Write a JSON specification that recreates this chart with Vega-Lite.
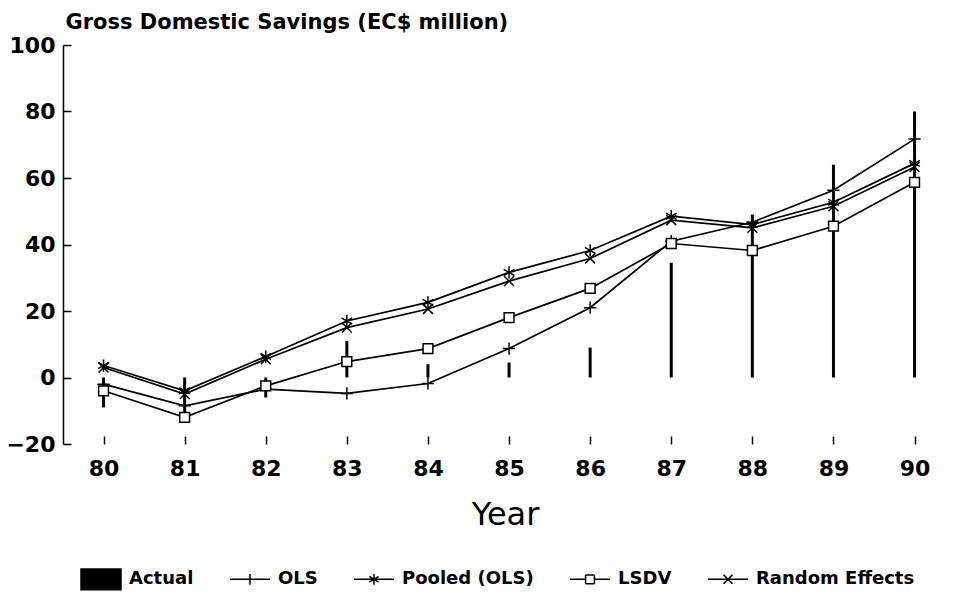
{
  "$schema": "https://vega.github.io/schema/vega-lite/v6.json",
  "autosize": "none",
  "width": 884,
  "height": 399,
  "padding": {"left": 63, "top": 45, "right": 7, "bottom": 152},
  "background": "white",
  "config": {
    "font": "DejaVu Sans",
    "view": {"stroke": null},
    "axis": {"labelColor": "black", "titleColor": "black", "tickColor": "black", "domainColor": "black", "grid": false}
  },
  "data": {
    "values": [
      {"year": 80, "series": "Actual", "value": -9},
      {"year": 81, "series": "Actual", "value": -11},
      {"year": 82, "series": "Actual", "value": -6},
      {"year": 83, "series": "Actual", "value": 11},
      {"year": 84, "series": "Actual", "value": 4},
      {"year": 85, "series": "Actual", "value": 4.5},
      {"year": 86, "series": "Actual", "value": 9},
      {"year": 87, "series": "Actual", "value": 34.5},
      {"year": 88, "series": "Actual", "value": 49},
      {"year": 89, "series": "Actual", "value": 64},
      {"year": 90, "series": "Actual", "value": 80},
      {"year": 80, "series": "OLS", "value": -2},
      {"year": 81, "series": "OLS", "value": -8.5},
      {"year": 82, "series": "OLS", "value": -3.5},
      {"year": 83, "series": "OLS", "value": -4.8},
      {"year": 84, "series": "OLS", "value": -1.8},
      {"year": 85, "series": "OLS", "value": 8.7},
      {"year": 86, "series": "OLS", "value": 21},
      {"year": 87, "series": "OLS", "value": 41},
      {"year": 88, "series": "OLS", "value": 46.7},
      {"year": 89, "series": "OLS", "value": 56.3},
      {"year": 90, "series": "OLS", "value": 71.7},
      {"year": 80, "series": "Pooled (OLS)", "value": 3.6},
      {"year": 81, "series": "Pooled (OLS)", "value": -4},
      {"year": 82, "series": "Pooled (OLS)", "value": 6.3},
      {"year": 83, "series": "Pooled (OLS)", "value": 17},
      {"year": 84, "series": "Pooled (OLS)", "value": 22.6},
      {"year": 85, "series": "Pooled (OLS)", "value": 31.6},
      {"year": 86, "series": "Pooled (OLS)", "value": 38.2},
      {"year": 87, "series": "Pooled (OLS)", "value": 48.5},
      {"year": 88, "series": "Pooled (OLS)", "value": 46},
      {"year": 89, "series": "Pooled (OLS)", "value": 52.7},
      {"year": 90, "series": "Pooled (OLS)", "value": 64.4},
      {"year": 80, "series": "LSDV", "value": -4},
      {"year": 81, "series": "LSDV", "value": -12},
      {"year": 82, "series": "LSDV", "value": -2.5},
      {"year": 83, "series": "LSDV", "value": 4.8},
      {"year": 84, "series": "LSDV", "value": 8.7},
      {"year": 85, "series": "LSDV", "value": 18},
      {"year": 86, "series": "LSDV", "value": 26.8},
      {"year": 87, "series": "LSDV", "value": 40.3},
      {"year": 88, "series": "LSDV", "value": 38.2},
      {"year": 89, "series": "LSDV", "value": 45.5},
      {"year": 90, "series": "LSDV", "value": 58.7},
      {"year": 80, "series": "Random Effects", "value": 3},
      {"year": 81, "series": "Random Effects", "value": -5},
      {"year": 82, "series": "Random Effects", "value": 5.5},
      {"year": 83, "series": "Random Effects", "value": 15},
      {"year": 84, "series": "Random Effects", "value": 20.6},
      {"year": 85, "series": "Random Effects", "value": 29},
      {"year": 86, "series": "Random Effects", "value": 35.8},
      {"year": 87, "series": "Random Effects", "value": 47.3},
      {"year": 88, "series": "Random Effects", "value": 45},
      {"year": 89, "series": "Random Effects", "value": 51.5},
      {"year": 90, "series": "Random Effects", "value": 63.3}
    ]
  },
  "encoding": {
    "x": {
      "field": "year", "type": "quantitative",
      "scale": {"domain": [79.5, 90.4], "nice": false, "zero": false, "padding": 0},
      "axis": {
        "values": [80, 81, 82, 83, 84, 85, 86, 87, 88, 89, 90],
        "format": "d", "domain": false, "tickSize": -8, "tickWidth": 1.5,
        "labelFontSize": 22, "labelFontWeight": "bold", "labelPadding": 22, "labelFlush": false,
        "title": "Year", "titleFontSize": 32, "titleFontWeight": "normal", "titlePadding": 20
      }
    },
    "y": {
      "field": "value", "type": "quantitative",
      "scale": {"domain": [-20, 100], "nice": false},
      "axis": {
        "values": [-20, 0, 20, 40, 60, 80, 100],
        "tickSize": -8, "tickWidth": 1.5, "domainWidth": 1.5,
        "labelFontSize": 22, "labelFontWeight": "bold", "labelPadding": 16, "labelFlush": false,
        "title": "Gross Domestic Savings (EC$ million)",
        "titleAngle": 0, "titleAlign": "left", "titleBaseline": "alphabetic",
        "titleX": 2, "titleY": -17, "titleFontSize": 21, "titleFontWeight": "bold"
      }
    }
  },
  "layer": [
    {
      "transform": [{"filter": "datum.series === 'Actual'"}],
      "mark": {"type": "bar", "size": 3},
      "encoding": {
        "y2": {"datum": 0},
        "color": {
          "field": "series", "type": "nominal",
          "scale": {
            "domain": ["Actual", "OLS", "Pooled (OLS)", "LSDV", "Random Effects"],
            "range": ["black", "black", "black", "black", "black"]
          },
          "legend": {
            "orient": "none", "legendX": 17, "legendY": 513, "direction": "horizontal",
            "title": null, "symbolSize": 1600, "symbolStrokeWidth": 1.5,
            "labelFontSize": 18, "labelFontWeight": "bold", "labelOffset": 7, "columnPadding": 33, "labelLimit": 400,
            "labelColor": "black",
            "encode": {
              "symbols": {
                "update": {
                  "shape": {"signal": "datum.value === 'Actual' ? 'M-1,-0.52H1V0.52H-1Z' : datum.value === 'OLS' ? 'M-1,-0.52L-1,-0.52M-1,0.52L-1,0.52M-1,0H1M0,-0.27V0.27' : datum.value === 'Pooled (OLS)' ? 'M-1,-0.52L-1,-0.52M-1,0.52L-1,0.52M-1,0H1M0,-0.27V0.27M-0.23,-0.14L0.23,0.14M-0.23,0.14L0.23,-0.14' : datum.value === 'LSDV' ? 'M-1,-0.52L-1,-0.52M-1,0.52L-1,0.52M-1,0H-0.22M0.22,0H1M-0.22,-0.22H0.22M0.22,-0.22V0.22M0.22,0.22H-0.22M-0.22,0.22V-0.22' : 'M-1,-0.52L-1,-0.52M-1,0.52L-1,0.52M-1,0H1M-0.22,-0.22L0.22,0.22M-0.22,0.22L0.22,-0.22'"},
                  "fill": {"signal": "datum.value === 'Actual' ? 'black' : 'transparent'"},
                  "fillOpacity": {"signal": "datum.value === 'Actual' ? 1 : 0"},
                  "stroke": {"value": "black"},
                  "strokeWidth": {"value": 1.5},
                  "strokeCap": {"value": "butt"},
                  "opacity": {"value": 1}
                }
              }
            }
          }
        }
      }
    },
    {
      "transform": [{"filter": "datum.series !== 'Actual'"}],
      "mark": {"type": "line", "strokeWidth": 1.7},
      "encoding": {
        "color": {"field": "series", "type": "nominal"}
      }
    },
    {
      "transform": [{"filter": "datum.series !== 'Actual'"}],
      "mark": {"type": "point", "size": 150, "fill": "white", "stroke": "black", "strokeWidth": 1.5, "filled": false, "opacity": 1},
      "encoding": {
        "shape": {
          "field": "series", "type": "nominal",
          "scale": {
            "domain": ["OLS", "Pooled (OLS)", "LSDV", "Random Effects"],
            "range": ["M0,-1V1M-1,0H1", "M0,-1V1M-0.87,-0.5L0.87,0.5M-0.87,0.5L0.87,-0.5", "M-0.8,-0.8H0.8V0.8H-0.8Z", "M-0.8,-0.8L0.8,0.8M-0.8,0.8L0.8,-0.8"]
          },
          "legend": null
        }
      }
    }
  ]
}
